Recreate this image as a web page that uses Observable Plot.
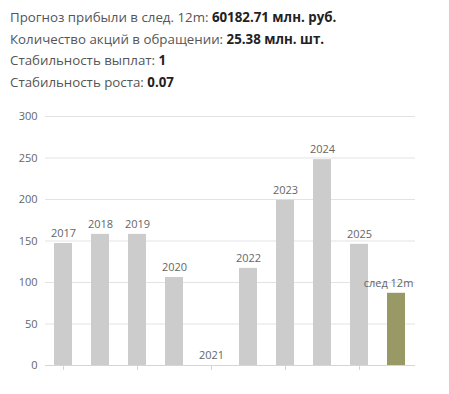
<!DOCTYPE html>
<html>
<head>
<meta charset="utf-8">
<script src="https://cdn.jsdelivr.net/npm/d3@7"></script>
<script src="https://cdn.jsdelivr.net/npm/@observablehq/plot@0.6"></script>
<style>
  html, body { margin: 0; padding: 0; background: #fff; width: 449px; height: 394px; overflow: hidden; }
  #header { position: absolute; left: 10px; top: 7px; font-family: "Open Sans", sans-serif; font-size: 13.3px; color: #555; }
  #header div { height: 21.5px; line-height: 21.5px; white-space: nowrap; }
  #header b { color: #222; font-weight: 700; }
  #chart { position: absolute; left: 0; top: 95px; }
</style>
</head>
<body>
<div id="header"></div>
<div id="chart"></div>
<script>
const infoLabels = ["Прогноз прибыли в след. 12m:", "Количество акций в обращении:", "Стабильность выплат:", "Стабильность роста:"];
const infoValues = ["60182.71 млн. руб.", "25.38 млн. шт.", "1", "0.07"];

const categories = ["2017", "2018", "2019", "2020", "2021", "2022", "2023", "2024", "2025", "след 12m"];
const values = [147, 158, 158, 106, 0, 117, 199, 248, 146, 87];
const forecastLabel = "след 12m";
const yTicks = [0, 50, 100, 150, 200, 250, 300];

const header = document.getElementById("header");
infoLabels.forEach((l, i) => {
  const div = document.createElement("div");
  div.append(l + " ");
  const b = document.createElement("b");
  b.textContent = infoValues[i];
  div.append(b);
  header.append(div);
});

const data = categories.map((c, i) => ({label: c, value: values[i]}));
const hist = data.filter(d => d.label !== forecastLabel);
const fc = data.filter(d => d.label === forecastLabel);

const chart = Plot.plot({
  width: 449,
  height: 290,
  marginLeft: 45,
  marginRight: 34,
  marginTop: 21,
  marginBottom: 20,
  style: {fontFamily: "Open Sans, sans-serif", fontSize: "11px", color: "#666", background: "#fff"},
  x: {domain: categories, paddingInner: 0.51, paddingOuter: 0.255, align: 0.5},
  y: {domain: [0, 300]},
  marks: [
    Plot.ruleY(yTicks.filter(d => d > 0), {stroke: "#e3e3e3", strokeWidth: 1}),
    Plot.axisY({ticks: yTicks, tickSize: 0, tickPadding: 8, fill: "#666", fontSize: 11, label: null}),
    Plot.barY(data, {x: "label", y: "value", fill: d => d.label === forecastLabel ? "#999966" : "#cccccc"}),
    Plot.ruleY([0], {stroke: "#ccd6eb", strokeWidth: 1}),
    Plot.axisX({ticks: categories.filter((d, i) => i % 2 === 0), tickFormat: () => "", tickSize: 5, stroke: "#ccd6eb", label: null}),
    Plot.text(hist, {x: "label", y: "value", text: "label", dy: -10, fill: "#666", fontSize: 11}),
    Plot.text(fc, {x: "label", y: "value", text: "label", dy: -10, dx: -8, fill: "#666", fontSize: 11})
  ]
});
document.getElementById("chart").append(chart);
</script>
</body>
</html>
